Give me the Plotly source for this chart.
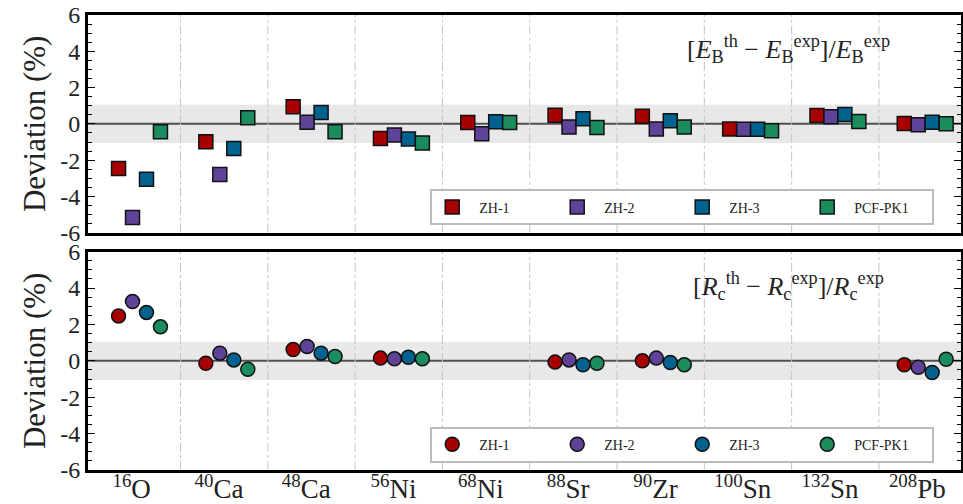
import plotly.graph_objects as go

nuclei = ["<sup>16</sup>O", "<sup>40</sup>Ca", "<sup>48</sup>Ca", "<sup>56</sup>Ni", "<sup>68</sup>Ni",
          "<sup>88</sup>Sr", "<sup>90</sup>Zr", "<sup>100</sup>Sn", "<sup>132</sup>Sn", "<sup>208</sup>Pb"]
series = ["ZH-1", "ZH-2", "ZH-3", "PCF-PK1"]
colors = ["#a80000", "#5e4398", "#02628f", "#1b8c5e"]
offsets = [-0.15, 0.01, 0.17, 0.33]

# Binding energy deviation (%)
be_zh1 = [-2.46, -0.99, 0.94, -0.81, 0.08, 0.48, 0.42, -0.28, 0.46, 0.02]
be_zh2 = [-5.16, -2.79, 0.09, -0.62, -0.55, -0.17, -0.28, -0.30, 0.39, -0.05]
be_zh3 = [-3.05, -1.36, 0.63, -0.83, 0.11, 0.28, 0.17, -0.30, 0.52, 0.09]
be_pcf = [-0.44, 0.33, -0.44, -1.05, 0.08, -0.20, -0.17, -0.38, 0.13, 0.00]

# Charge radius deviation (%)
rc_zh1 = [2.47, -0.13, 0.62, 0.15, None, -0.07, 0.00, None, None, -0.22]
rc_zh2 = [3.26, 0.42, 0.79, 0.11, None, 0.05, 0.15, None, None, -0.35]
rc_zh3 = [2.66, 0.05, 0.42, 0.20, None, -0.22, -0.09, None, None, -0.64]
rc_pcf = [1.87, -0.46, 0.24, 0.11, None, -0.13, -0.22, None, None, 0.09]

be_data = [be_zh1, be_zh2, be_zh3, be_pcf]
rc_data = [rc_zh1, rc_zh2, rc_zh3, rc_pcf]

FONT = "Liberation Serif"
NB = "\u00a0\u00a0"
fig = go.Figure()

for k, name in enumerate(series):
    xs = [i + offsets[k] for i in range(len(nuclei))]
    fig.add_trace(go.Scatter(
        x=xs, y=be_data[k], mode="markers", name=NB + name, legend="legend",
        marker=dict(symbol="square", size=14, color=colors[k],
                    line=dict(color="#111111", width=1.5)),
        xaxis="x", yaxis="y"))
for k, name in enumerate(series):
    xs = [i + offsets[k] for i in range(len(nuclei))]
    fig.add_trace(go.Scatter(
        x=xs, y=rc_data[k], mode="markers", name=NB + name, legend="legend2",
        marker=dict(symbol="circle", size=14, color=colors[k],
                    line=dict(color="#111111", width=1.5)),
        xaxis="x2", yaxis="y2"))

shapes = []
for xa, ya in [("x", "y"), ("x2", "y2")]:
    shapes.append(dict(type="rect", xref=f"{xa} domain", yref=ya, x0=0, x1=1,
                       y0=-1.05, y1=1.05, fillcolor="#e8e8e8", line=dict(width=0),
                       layer="below"))
    shapes.append(dict(type="line", xref=f"{xa} domain", yref=ya, x0=0, x1=1,
                       y0=0, y1=0, line=dict(color="#505050", width=2), layer="below"))
    for i in range(len(nuclei) - 1):
        shapes.append(dict(type="line", xref=xa, yref=f"{ya} domain", x0=i + 0.56, x1=i + 0.56,
                           y0=0, y1=1, line=dict(color="#c4c4c4", width=1, dash="dashdot"),
                           layer="below"))

yax = dict(range=[-6, 6], tickvals=[-6, -4, -2, 0, 2, 4, 6],
           ticktext=["-6", "-4", "-2", "0", "2", "4", "6"],
           ticks="inside", ticklen=7, tickwidth=1.2, tickcolor="black",
           minor=dict(dtick=0.5, ticks="inside", ticklen=4, tickcolor="black", tickwidth=1),
           showline=True, linecolor="black", linewidth=3, mirror="ticks",
           showgrid=False, zeroline=False, automargin=False,
           tickfont=dict(family=FONT, size=24, color="#222"),
           title=dict(text="Deviation (%)", font=dict(family=FONT, size=31, color="#222"),
                      standoff=6))
xax = dict(range=[-0.5, 9.5], tickvals=list(range(len(nuclei))), ticktext=nuclei,
           ticks="", showline=True, linecolor="black", linewidth=3, mirror=True,
           showgrid=False, zeroline=False, automargin=False, ticklabelstandoff=-7,
           tickfont=dict(family=FONT, size=27, color="#222"))

top_dom = [0.5215, 1.0]
bot_dom = [0.0, 0.4798]

legend_common = dict(orientation="h", entrywidth=80, entrywidthmode="pixels",
                     bgcolor="white", bordercolor="#bbbbbb", borderwidth=2,
                     font=dict(family=FONT, size=14, color="#222"),
                     xanchor="left", yanchor="bottom", x=0.392,
                     itemclick=False, traceorder="normal")

fig.update_layout(
    width=963, height=504,
    margin=dict(l=88, r=2, t=15, b=34),
    plot_bgcolor="white", paper_bgcolor="white",
    xaxis=dict(xax, domain=[0, 1], anchor="y", showticklabels=False),
    yaxis=dict(yax, domain=top_dom, anchor="x"),
    xaxis2=dict(xax, domain=[0, 1], anchor="y2"),
    yaxis2=dict(yax, domain=bot_dom, anchor="x2"),
    shapes=shapes,
    legend=dict(legend_common, y=top_dom[0] + 0.016),
    legend2=dict(legend_common, y=bot_dom[0] + 0.016),
    annotations=[
        dict(text="[<i>E</i><sub>B</sub><sup>th</sup> − <i>E</i><sub>B</sub><sup>exp</sup>]/<i>E</i><sub>B</sub><sup>exp</sup>",
             xref="x", yref="y", x=7.52, y=4.1, showarrow=False,
             font=dict(family=FONT, size=26, color="#222")),
        dict(text="[<i>R</i><sub>c</sub><sup>th</sup> − <i>R</i><sub>c</sub><sup>exp</sup>]/<i>R</i><sub>c</sub><sup>exp</sup>",
             xref="x2", yref="y2", x=7.52, y=4.1, showarrow=False,
             font=dict(family=FONT, size=26, color="#222")),
    ],
)

fig.write_html("out.html")
